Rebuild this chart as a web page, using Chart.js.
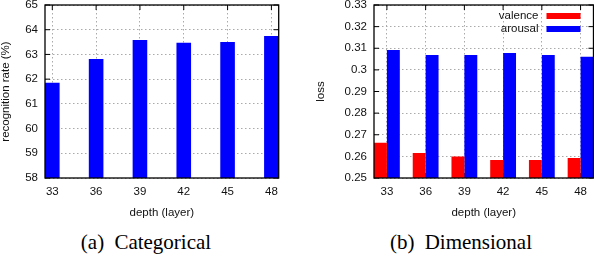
<!DOCTYPE html>
<html>
<head>
<meta charset="utf-8">
<script src="https://cdn.jsdelivr.net/npm/chart.js@4.4.0/dist/chart.umd.min.js"></script>
<style>
  html, body { margin: 0; padding: 0; background: #fff; }
  #wrap { position: relative; width: 594px; height: 258px; overflow: hidden; }
  canvas { position: absolute; top: -20px; }
  .cap { position: absolute; top: 232px; width: 220px; text-align: center;
         font-family: "Liberation Serif", serif; font-size: 21px; line-height: 21px;
         word-spacing: 5px; color: #000; white-space: pre; }
</style>
</head>
<body>
<div id="wrap">
  <canvas id="left" width="297" height="245" style="left:0"></canvas>
  <canvas id="right" width="297" height="245" style="left:297px"></canvas>
  <div class="cap" style="left:36px">(a) Categorical</div>
  <div class="cap" style="left:351px">(b) Dimensional</div>
</div>
<script>
// depth (layer) values on x
const depths = [33, 36, 39, 42, 45, 48];

// (a) categorical: recognition rate (%)
const recognitionRate = [61.85, 62.82, 63.58, 63.47, 63.5, 63.75];
const rateTicks = [58, 59, 60, 61, 62, 63, 64, 65];

// (b) dimensional: loss
const valenceLoss = [0.2663, 0.2616, 0.2599, 0.2583, 0.2583, 0.2593];
const arousalLoss = [0.3092, 0.3069, 0.3069, 0.3078, 0.3069, 0.3061];
const lossTicks = [0.25, 0.26, 0.27, 0.28, 0.29, 0.3, 0.31, 0.32, 0.33];

const fontFam = '"Liberation Sans", Arial, sans-serif';
const tickFont = { family: fontFam, size: 11.5 };

// marco estilo gnuplot: borde y marcas hacia dentro
const frame = {
  id: 'frame',
  beforeDatasetsDraw(chart) {
    const { ctx, chartArea: a, scales: { x, y } } = chart;
    ctx.save();
    ctx.strokeStyle = '#000';
    ctx.lineWidth = 1;
    ctx.beginPath();
    x.ticks.forEach(t => {
      const px = x.getPixelForValue(t.value);
      ctx.moveTo(px, a.top); ctx.lineTo(px, a.top + 5);
      ctx.moveTo(px, a.bottom); ctx.lineTo(px, a.bottom - 5);
    });
    y.ticks.forEach(t => {
      const py = y.getPixelForValue(t.value);
      ctx.moveTo(a.left, py); ctx.lineTo(a.left + 5, py);
      ctx.moveTo(a.right, py); ctx.lineTo(a.right - 5, py);
    });
    ctx.stroke();
    ctx.restore();
  },
  afterDatasetsDraw(chart) {
    const { ctx, chartArea: a } = chart;
    ctx.save();
    ctx.strokeStyle = '#000';
    ctx.lineWidth = 1.3;
    ctx.strokeRect(a.left, a.top, a.right - a.left, a.bottom - a.top);
    ctx.restore();
  }
};

// leyenda dentro del área (arriba a la derecha)
const insideLegend = {
  id: 'insideLegend',
  afterDatasetsDraw(chart) {
    const { ctx, chartArea: a } = chart;
    ctx.save();
    ctx.font = '11.5px ' + fontFam;
    ctx.textAlign = 'right';
    ctx.textBaseline = 'middle';
    chart.data.datasets.forEach((ds, i) => {
      const yc = a.top + 11 + i * 13;
      const sx = a.right - 47;
      ctx.fillStyle = ds.backgroundColor;
      ctx.fillRect(sx, yc - 3, 34, 6);
      ctx.fillStyle = '#111';
      ctx.fillText(ds.label, sx - 8, yc);
    });
    ctx.restore();
  }
};

function axes(opts) {
  return {
    x: {
      type: 'linear',
      min: opts.xMin, max: opts.xMax,
      offset: false,
      afterBuildTicks: s => { s.ticks = depths.map(v => ({ value: v })); },
      afterFit: s => { s.height = 47; },
      grid: { color: '#aaa', drawTicks: false, offset: false },
      border: { display: false, dash: [1.5, 2.5] },
      ticks: { font: tickFont, color: '#111', padding: 7, maxRotation: 0, autoSkip: false },
      title: { display: true, text: 'depth (layer)', font: { family: fontFam, size: 11.5, lineHeight: 1 },
               color: '#111', padding: { top: 0, bottom: 6 } }
    },
    y: {
      min: opts.yMin, max: opts.yMax,
      afterBuildTicks: s => { s.ticks = opts.yTicks.map(v => ({ value: v })); },
      afterFit: s => { s.width = opts.yWidth; },
      grid: { color: '#aaa', drawTicks: false },
      border: { display: false, dash: [1.5, 2.5] },
      ticks: { font: tickFont, color: '#111', padding: 7, callback: v => String(v) },
      title: { display: true, text: opts.yTitle, font: { family: fontFam, size: 11.5, lineHeight: 1 },
               color: '#111', padding: { top: opts.yTitlePad, bottom: 0 } }
    }
  };
}

new Chart(document.getElementById('left'), {
  type: 'bar',
  data: {
    datasets: [{
      label: 'recognition rate',
      data: depths.map((d, i) => ({ x: d, y: recognitionRate[i] })),
      backgroundColor: '#0000ff',
      borderWidth: 0,
      categoryPercentage: 1 / 3,
      barPercentage: 1
    }]
  },
  options: {
    responsive: false,
    animation: false,
    devicePixelRatio: 1,
    layout: { padding: { top: 25, left: 0, right: 18.3, bottom: 0 } },
    plugins: { legend: { display: false }, tooltip: { enabled: false } },
    scales: axes({ xMin: 32.5, xMax: 48.5, yMin: 58, yMax: 65, yTicks: rateTicks,
                   yWidth: 45, yTitle: 'recognition rate (%)', yTitlePad: 0 })
  },
  plugins: [frame]
});

new Chart(document.getElementById('right'), {
  type: 'bar',
  data: {
    datasets: [
      { label: 'valence', data: depths.map((d, i) => ({ x: d, y: valenceLoss[i] })),
        backgroundColor: '#ff0000', borderWidth: 0, categoryPercentage: 2 / 3, barPercentage: 1 },
      { label: 'arousal', data: depths.map((d, i) => ({ x: d, y: arousalLoss[i] })),
        backgroundColor: '#0000ff', borderWidth: 0, categoryPercentage: 2 / 3, barPercentage: 1 }
    ]
  },
  options: {
    responsive: false,
    animation: false,
    devicePixelRatio: 1,
    layout: { padding: { top: 25, left: 0, right: 0.5, bottom: 0 } },
    plugins: { legend: { display: false }, tooltip: { enabled: false } },
    scales: axes({ xMin: 32, xMax: 49, yMin: 0.25, yMax: 0.33, yTicks: lossTicks,
                   yWidth: 77, yTitle: 'loss', yTitlePad: 18 })
  },
  plugins: [frame, insideLegend]
});
</script>
</body>
</html>
